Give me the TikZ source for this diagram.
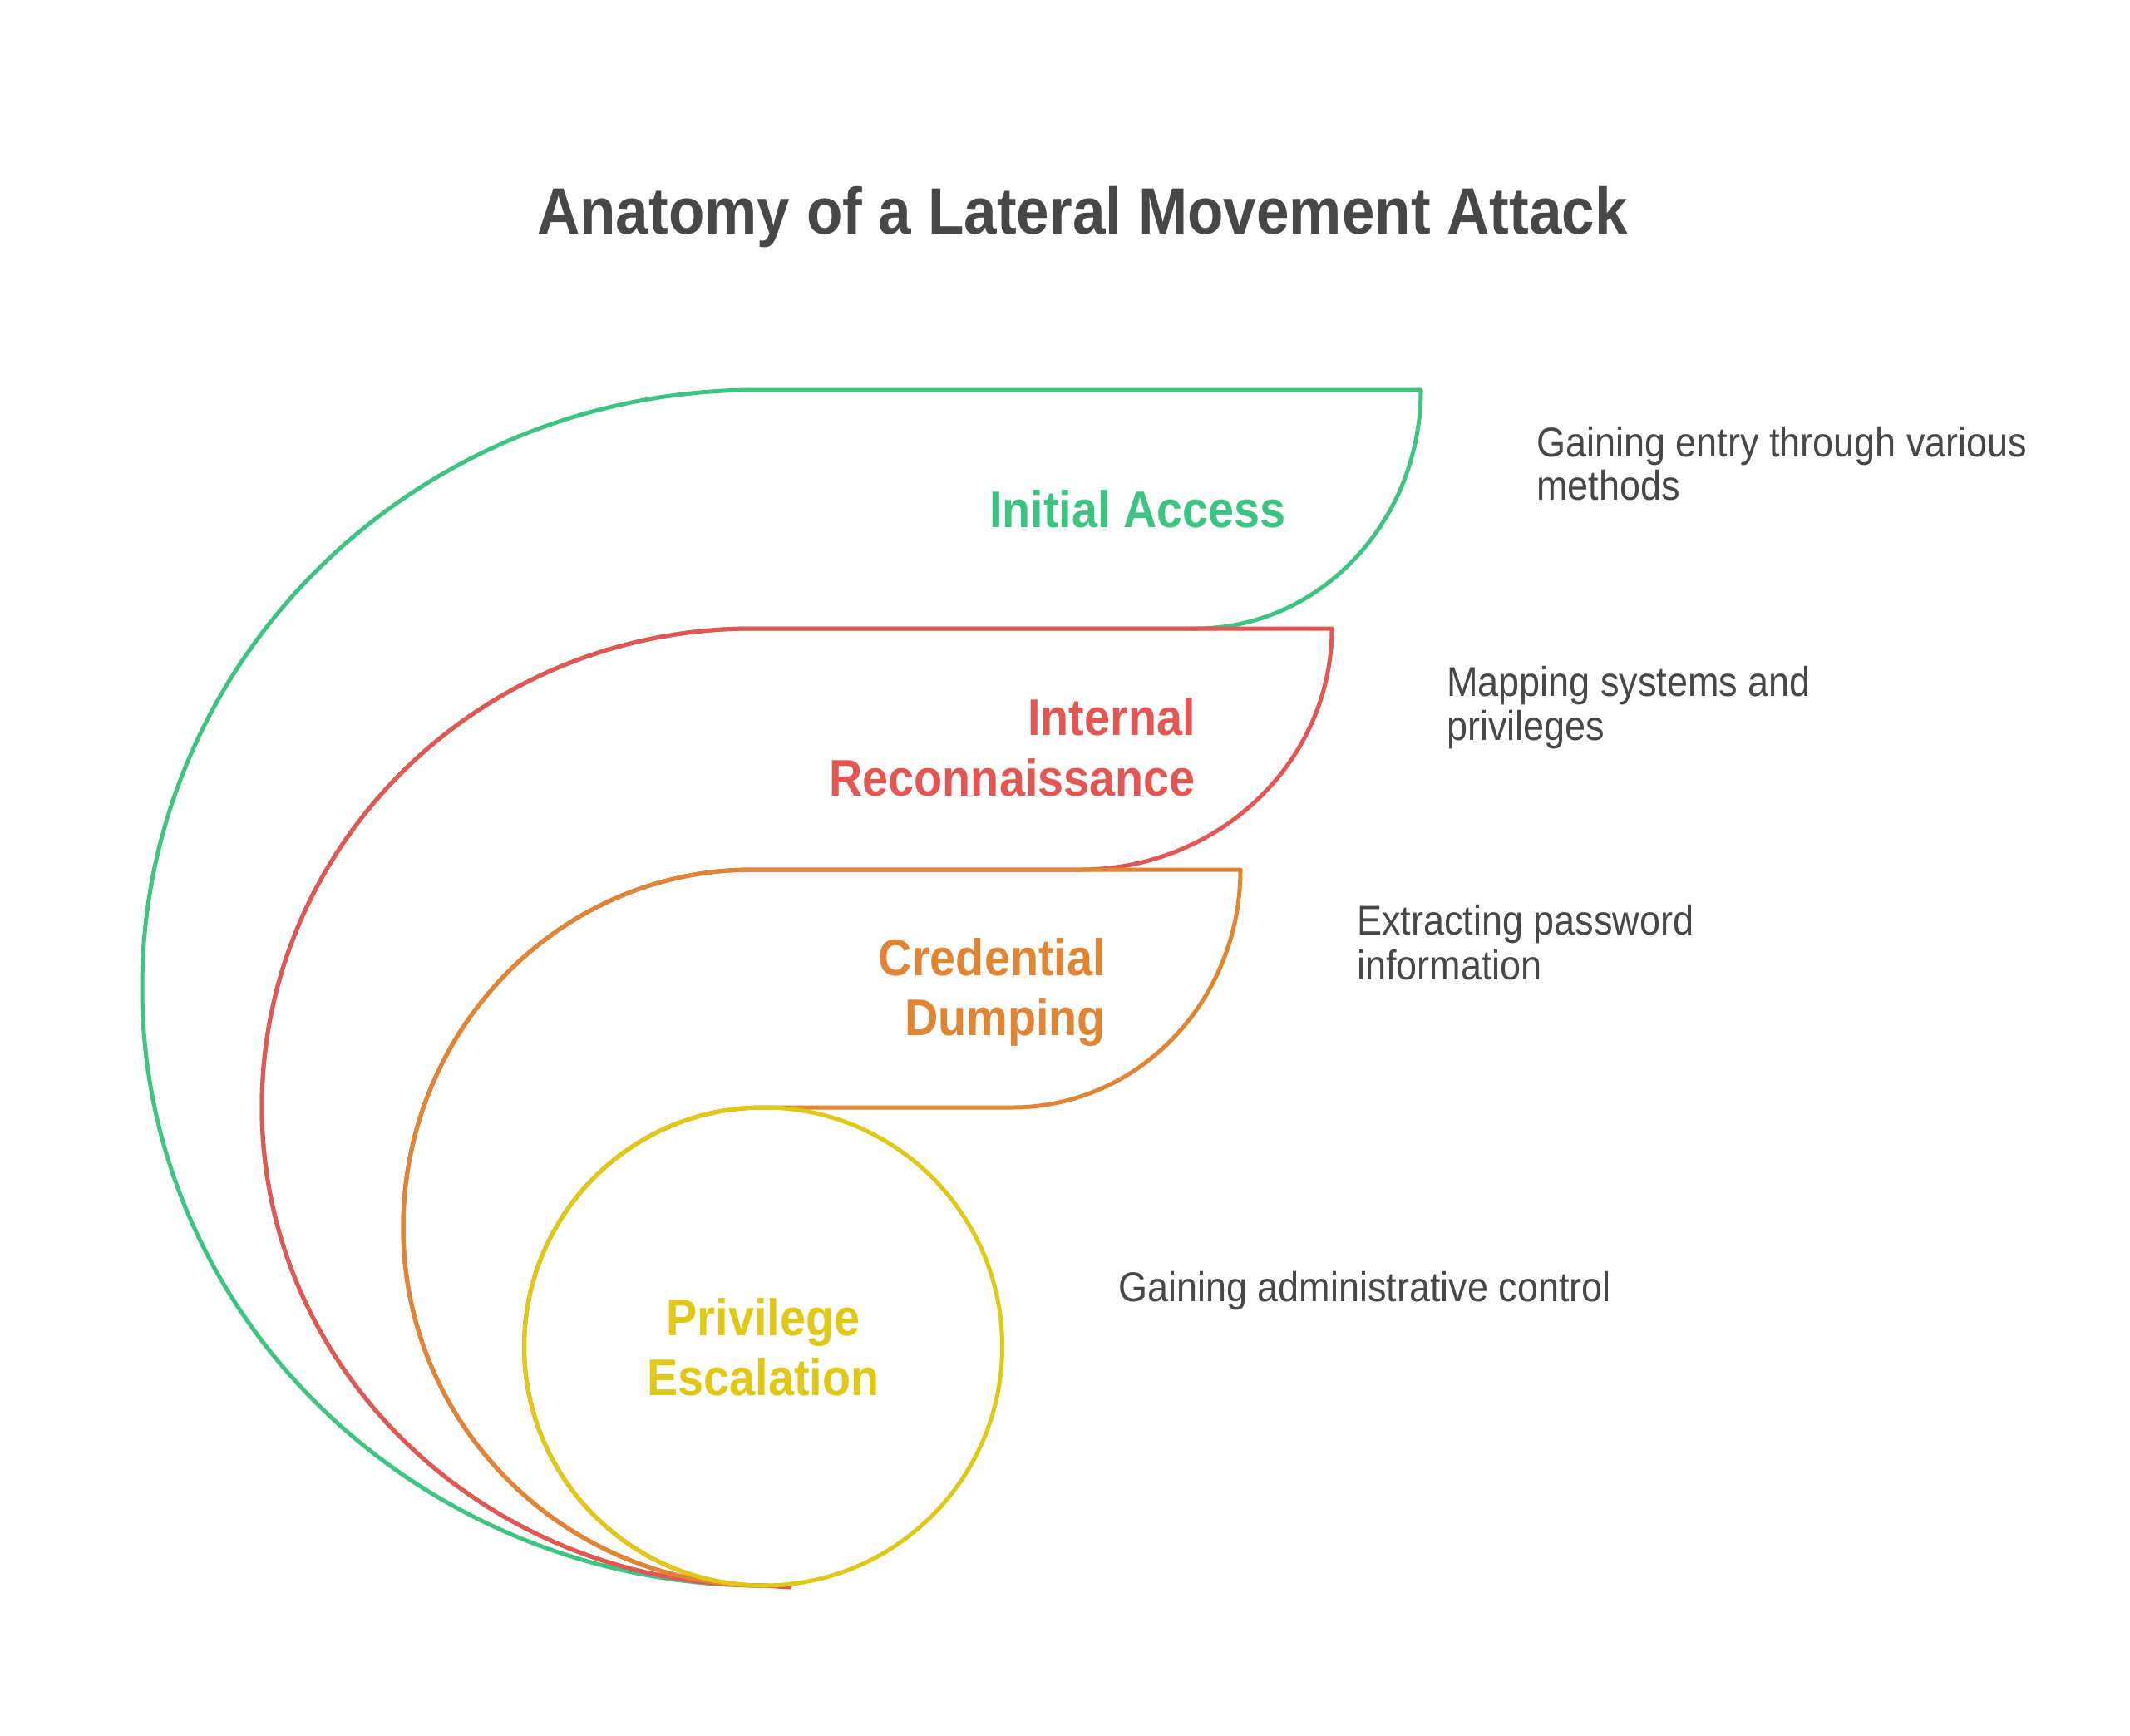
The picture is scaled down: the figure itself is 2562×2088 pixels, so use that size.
\documentclass[tikz,border=0pt]{standalone}
\usepackage{fontspec}
\setmainfont{Liberation Sans}[FakeStretch=0.9]
\definecolor{cgreen}{HTML}{3DC482}
\definecolor{cred}{HTML}{E35654}
\definecolor{corange}{HTML}{DF8534}
\definecolor{cyellow}{HTML}{DFC816}
\definecolor{ctext}{HTML}{474747}
\begin{document}
\begin{tikzpicture}[x=1pt,y=-1pt,
  shapeline/.style={line width=5pt, line join=round, line cap=round},
  titletxt/.style={inner sep=0pt, text=ctext, font=\fontsize{79}{95}\selectfont\bfseries},
  labeltxt/.style={inner sep=0pt, font=\fontsize{62}{74}\selectfont\bfseries},
  desctxt/.style={inner sep=0pt, anchor=base west, text=ctext, font=\fontsize{50}{60}\selectfont}]
\fill[white] (0,0) rectangle (2562,2088);
\useasboundingbox (0,0) rectangle (2562,2088);

% title
\node[titletxt, anchor=base] (title) at (1302,281) {Anatomy of a Lateral Movement Attack};

% green shape: Initial Access
\draw[shapeline, cgreen] (950,1908) -- (918,1907)
  .. controls (505,1907) and (171,1585) .. (171,1188)
  .. controls (171,791) and (502,469) .. (910,469)
  -- (1709,469)
  .. controls (1709,627) and (1588,756) .. (1438,756)
  -- (905,756)
  .. controls (579,756) and (315,1014) .. (315,1331.5)
  .. controls (315,1649) and (585,1907) .. (918,1907);

% red shape: Internal Reconnaissance
\draw[shapeline, cred] (950,1909) -- (918,1907)
  .. controls (585,1907) and (315,1649) .. (315,1331.5)
  .. controls (315,1014) and (579,756) .. (905,756)
  -- (1602,756)
  .. controls (1602,916) and (1466,1046) .. (1299,1046)
  -- (905,1046)
  .. controls (673,1046) and (485,1239) .. (485,1476.5)
  .. controls (485,1714) and (679,1907) .. (918,1907);

% orange shape: Credential Dumping
\draw[shapeline, corange] (918,1907)
  .. controls (679,1907) and (485,1714) .. (485,1476.5)
  .. controls (485,1239) and (673,1046) .. (905,1046)
  -- (1492,1046)
  .. controls (1492,1204) and (1369,1332) .. (1217,1332)
  -- (918,1332)
  .. controls (759,1332) and (630.5,1461) .. (630.5,1619.5)
  .. controls (630.5,1778) and (759,1907) .. (918,1907);

% yellow circle: Privilege Escalation
\node[circle, draw=cyellow, line width=5pt, minimum size=575pt, inner sep=0pt] (pe) at (918,1619.5) {};

% labels
\node[labeltxt, text=cgreen, anchor=base east] (ia) at (1547,634) {Initial Access};
\node[labeltxt, text=cred, anchor=base east] (ir1) at (1438,884) {Internal};
\node[labeltxt, text=cred, anchor=base east] (ir2) at (1438,957) {Reconnaissance};
\node[labeltxt, text=corange, anchor=base east] (cd1) at (1330,1173) {Credential};
\node[labeltxt, text=corange, anchor=base east] (cd2) at (1330,1245) {Dumping};
\node[labeltxt, text=cyellow, anchor=base] (pe1) at (918,1606) {Privilege};
\node[labeltxt, text=cyellow, anchor=base] (pe2) at (918,1678) {Escalation};

% descriptions
\node[desctxt] (d1a) at (1848,549) {Gaining entry through various};
\node[desctxt] (d1b) at (1848,601) {methods};
\node[desctxt] (d2a) at (1740,837) {Mapping systems and};
\node[desctxt] (d2b) at (1740,890) {privileges};
\node[desctxt] (d3a) at (1632,1124) {Extracting password};
\node[desctxt] (d3b) at (1632,1178) {information};
\node[desctxt] (d4) at (1345,1565) {Gaining administrative control};
\end{tikzpicture}
\end{document}
